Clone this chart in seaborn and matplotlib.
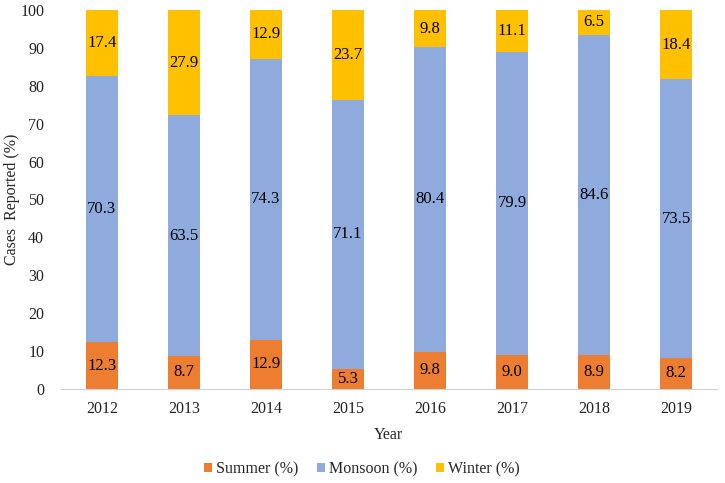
import numpy as np
import pandas as pd
import matplotlib.pyplot as plt
import seaborn as sns

years = ["2012", "2013", "2014", "2015", "2016", "2017", "2018", "2019"]
summer = [12.3, 8.7, 12.9, 5.3, 9.8, 9.0, 8.9, 8.2]
monsoon = [70.3, 63.5, 74.3, 71.1, 80.4, 79.9, 84.6, 73.5]
winter = [17.4, 27.9, 12.9, 23.7, 9.8, 11.1, 6.5, 18.4]

sns.set_style("white")
plt.rcParams["font.family"] = ["Liberation Serif", "DejaVu Serif"]

colors = {"Summer (%)": "#ED7D31", "Monsoon (%)": "#8FAADC", "Winter (%)": "#FFC000"}

fig = plt.figure(figsize=(7.25, 4.83), dpi=100)
ax = fig.add_axes([0.084, 0.195, 0.905, 0.784])

bottom = np.zeros(len(years))
for name, vals in [("Summer (%)", summer), ("Monsoon (%)", monsoon), ("Winter (%)", winter)]:
    vals = np.array(vals)
    sns.barplot(x=years, y=vals, color=colors[name], width=0.39, bottom=bottom,
                label=name, ax=ax, saturation=1, linewidth=0, edgecolor="none")
    for i, v in enumerate(vals):
        ax.text(i, bottom[i] + v / 2, f"{v:.1f}", ha="center", va="center",
                fontsize=12, color="black")
    bottom = bottom + vals

ax.set_ylim(0, 100)
ax.set_xlim(-0.5, len(years) - 0.5)
ax.set_yticks(range(0, 101, 10))
ax.tick_params(axis="both", labelsize=11.5, length=0, colors="#222222")
ax.tick_params(axis="y", pad=12)
ax.tick_params(axis="x", pad=9)
for s in ["top", "right", "left"]:
    ax.spines[s].set_visible(False)
ax.spines["bottom"].set_color("#d0d0d0")
ax.set_xlabel("Year", fontsize=11.5, labelpad=7)
ax.set_ylabel("Cases  Reported (%)", fontsize=11.5)
ax.yaxis.set_label_coords(-0.063, 0.5)

handles, labels = ax.get_legend_handles_labels()
if ax.get_legend() is not None:
    ax.get_legend().remove()
fig.legend(handles, labels, loc="center", bbox_to_anchor=(0.499, 0.029), ncol=3,
           frameon=False, fontsize=11.5, handlelength=0.5, handleheight=0.5,
           columnspacing=1.15, handletextpad=0.25)

fig.savefig("out.png", dpi=100)
